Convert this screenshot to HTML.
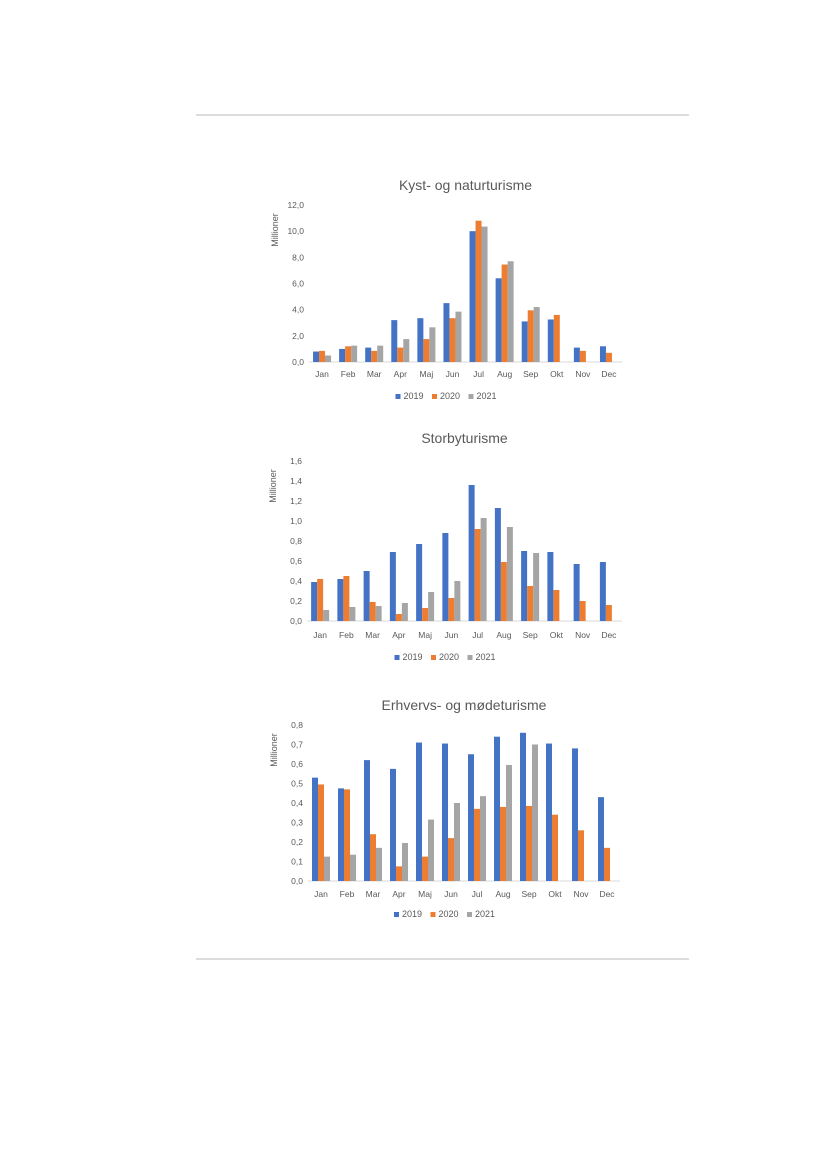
<!DOCTYPE html>
<html><head><meta charset="utf-8"><style>
body{margin:0;background:#fff;}
svg{display:block;font-family:"Liberation Sans",sans-serif;}
</style></head><body>
<svg id="s" width="827" height="1169" xmlns="http://www.w3.org/2000/svg">
<rect width="827" height="1169" fill="#fff"/>
<line x1="196" y1="115" x2="689" y2="115" stroke="#c8c8c8" stroke-width="1.2"/>
<line x1="196" y1="959" x2="689" y2="959" stroke="#c8c8c8" stroke-width="1.2"/>
</svg>
<script>
const S=document.getElementById('s');const NS='http://www.w3.org/2000/svg';
function el(t,a,txt){const e=document.createElementNS(NS,t);for(const k in a)e.setAttribute(k,a[k]);if(txt!==undefined)e.textContent=txt;S.appendChild(e);return e;}
const M=['Jan','Feb','Mar','Apr','Maj','Jun','Jul','Aug','Sep','Okt','Nov','Dec'];
const C=['#4472C4','#ED7D31','#A5A5A5'];
function chart(o){
 el('text',{x:(o.x0+o.x1)/2,y:o.ty,'text-anchor':'middle','font-size':14,fill:'#595959'},o.title);
 const n=o.ticks.length-1;
 for(let i=0;i<=n;i++){const y=o.y0+(o.yt-o.y0)*i/n;
  el('text',{x:o.x0-5,y:y+3,'text-anchor':'end','font-size':8.5,fill:'#595959'},o.ticks[i]);}
 el('line',{x1:o.x0,y1:o.y0,x2:o.x1,y2:o.y0,stroke:'#d9d9d9','stroke-width':1});
 el('text',{transform:`translate(${o.x0-31},${o.yt+25}) rotate(-90)`,'text-anchor':'middle','font-size':9,fill:'#595959'},'Millioner');
 const w=(o.x1-o.x0)/12;
 for(let m=0;m<12;m++){const cx=o.x0+w*m;
  el('text',{x:cx+w/2,y:o.ly,'text-anchor':'middle','font-size':8.5,fill:'#595959'},M[m]);
  for(let s=0;s<3;s++){const v=o.d[s][m];if(v==null)continue;
   const h=(o.y0-o.yt)*v/o.max;
   el('rect',{x:cx+w/2-9+s*6,y:o.y0-h,width:6,height:h,fill:C[s]});}
 }
 const lx=(o.x0+o.x1)/2-70;const L=['2019','2020','2021'];
 for(let s=0;s<3;s++){el('rect',{x:lx+s*36.5,y:o.lg-6,width:5,height:5,fill:C[s]});
  el('text',{x:lx+s*36.5+8,y:o.lg-1,'font-size':9,fill:'#595959'},L[s]);}
}
chart({title:'Kyst- og naturturisme',ty:190,x0:309,x1:622,y0:362,yt:205,max:12,ly:377,lg:400,
 ticks:['0,0','2,0','4,0','6,0','8,0','10,0','12,0'],
 d:[[.8,1.0,1.1,3.2,3.35,4.5,10.0,6.4,3.1,3.25,1.1,1.2],[.85,1.2,.85,1.1,1.75,3.35,10.8,7.45,3.95,3.6,.85,.7],[.5,1.25,1.25,1.75,2.65,3.85,10.35,7.7,4.2,null,null,null]]});
chart({title:'Storbyturisme',ty:443,x0:307,x1:622,y0:621,yt:461,max:1.6,ly:638,lg:661,
 ticks:['0,0','0,2','0,4','0,6','0,8','1,0','1,2','1,4','1,6'],
 d:[[.39,.42,.5,.69,.77,.88,1.36,1.13,.7,.69,.57,.59],[.42,.45,.19,.07,.13,.23,.92,.59,.35,.31,.2,.16],[.11,.14,.15,.18,.29,.40,1.03,.94,.68,null,null,null]]});
chart({title:'Erhvervs- og mødeturisme',ty:710,x0:308,x1:620,y0:881,yt:725,max:.8,ly:897,lg:918,
 ticks:['0,0','0,1','0,2','0,3','0,4','0,5','0,6','0,7','0,8'],
 d:[[.53,.475,.62,.575,.71,.705,.65,.74,.76,.705,.68,.43],[.495,.47,.24,.075,.125,.22,.37,.38,.385,.34,.26,.17],[.125,.135,.17,.195,.315,.4,.435,.595,.7,null,null,null]]});
</script>
</body></html>
